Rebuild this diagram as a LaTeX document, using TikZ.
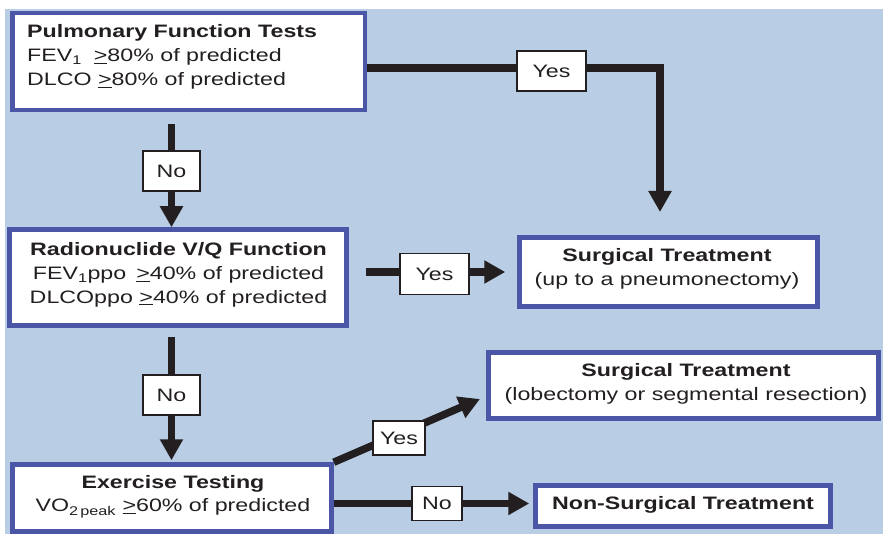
\documentclass[tikz,border=0pt]{standalone}
\usepackage{fontspec}
\setmainfont{Liberation Sans}[FakeStretch=1.29]
\usetikzlibrary{arrows.meta,calc}
\definecolor{bgblue}{RGB}{185,205,229}
\definecolor{boxblue}{RGB}{76,86,166}
\definecolor{ink}{RGB}{35,31,32}
\pgfdeclarelayer{back}
\pgfdeclarelayer{lines}
\pgfsetlayers{back,lines,main}
\begin{document}
\begin{tikzpicture}[x=1pt,y=-1pt,
  every node/.style={font=\fontsize{18}{23.8}\selectfont, text=ink},
  box/.style={draw=boxblue, line width=4.5pt, fill=white, inner sep=0pt},
  lbl/.style={draw=ink, line width=1.4pt, fill=white, inner sep=0pt},
  txt/.style={inner sep=0pt, align=center},
  conn/.style={draw=ink, line width=7.5pt},
  arr/.style={conn, -{Triangle[length=21pt,width=22pt]}}]
\useasboundingbox (0,0) rectangle (883,534);
\begin{pgfonlayer}{back}
\fill[white] (0,0) rectangle (883,534);
\fill[bgblue] (5,9) rectangle (883,534);
\end{pgfonlayer}

% boxes
\node[box, minimum width=352.5pt, minimum height=97pt] (b1) at (188.75,61.5) {};
\node[txt, align=left, anchor=west] (t1) at (27,57) {\textbf{Pulmonary Function Tests}\\FEV\textsubscript{1}\hspace{12pt}\underline{>}80\% of predicted\\DLCO \underline{>}80\% of predicted};

\node[box, minimum width=337pt, minimum height=96pt] (b2) at (178,277.5) {};
\node[txt] (t2) at (178.5,274.8) {\textbf{Radionuclide V/Q Function}\\FEV\textsubscript{1}ppo\hspace{10pt}\underline{>}40\% of predicted\\DLCOppo \underline{>}40\% of predicted};

\node[box, minimum width=319pt, minimum height=67pt] (b3) at (172,498) {};
\node[txt] (t3) at (173,496.3) {\textbf{Exercise Testing}\\VO\textsubscript{2\,peak} \underline{>}60\% of predicted};

\node[box, minimum width=298pt, minimum height=69pt] (b4) at (668.5,272) {};
\node[txt] (t4) at (667,269) {\textbf{Surgical Treatment}\\(up to a pneumonectomy)};

\node[box, minimum width=390pt, minimum height=66pt] (b5) at (683.5,385.5) {};
\node[txt] (t5) at (686,384) {\textbf{Surgical Treatment}\\(lobectomy or segmental resection)};

\node[box, minimum width=295pt, minimum height=41pt] (b6) at (683,506) {};
\node[txt] (t6) at (683,505) {\textbf{Non-Surgical Treatment}};

% labels
\node[lbl, minimum width=69pt, minimum height=40pt] (l1) at (551.5,71) {Yes};
\node[lbl, minimum width=57pt, minimum height=40pt] (l2) at (171.5,171) {No};
\node[lbl, minimum width=69pt, minimum height=41pt] (l3) at (434.5,274) {Yes};
\node[lbl, minimum width=57pt, minimum height=40pt] (l4) at (171.5,395) {No};
\node[lbl, minimum width=52pt, minimum height=34pt] (l5) at (399,438) {Yes};
\node[lbl, minimum width=50pt, minimum height=34pt] (l6) at (437,503.5) {No};

% connector points
\coordinate (k1) at (660,68);
\coordinate (e1) at (660,212);
\coordinate (s2) at ($(b1.south -| l2.north)+(0,12)$);
\coordinate (s3) at ($(b2.east |- 0,272)+(17,0)$);
\coordinate (e3) at ($(b4.west |- 0,272)+(-12,0)$);
\coordinate (s4) at ($(b2.south -| l4.north)+(0,9)$);
\coordinate (e4) at ($(b3.north -| l4.south)+(0,-2)$);
\coordinate (e5) at (480,399);
\coordinate (e6) at ($(b6.west |- l6)+(-4,0)$);

\begin{pgfonlayer}{lines}
\draw[arr] (b1.east |- k1) -- (k1) -- (e1);
\draw[arr] (s2) -- (b2.north -| s2);
\draw[arr] (s3) -- (e3);
\draw[arr] (s4) -- (e4);
\draw[arr] (b3.north east) -- (e5);
\draw[arr] (b3.east |- l6) -- (e6);
\end{pgfonlayer}
\end{tikzpicture}
\end{document}
